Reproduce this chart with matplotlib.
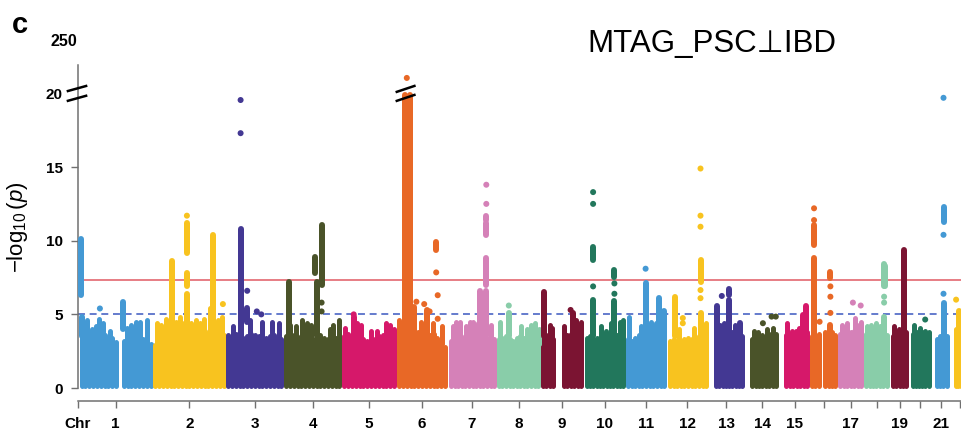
import numpy as np
import matplotlib
matplotlib.use("Agg")
import matplotlib.pyplot as plt
from matplotlib.lines import Line2D
import matplotlib.transforms as mtransforms

nan = np.nan

# ---- chromosome layout (Mb along the genome axis) ----
chrom_length = [250, 243, 193, 193, 183, 170, 163, 147, 143, 140, 137,
                137, 123, 117, 100, 93, 87, 87, 67, 70, 67, 60]
data_lo = [12, 8, 8, 8, 8, 8, 11, 8, 8, 11, 8, 11, 28, 25, 21, 8, 8, 8, 11, 11, 21, 15]
data_hi = [242, 235, 185, 185, 175, 162, 155, 139, 135, 132, 129, 132, 115, 105,
           92, 85, 79, 77, 55, 62, 52, 52]
tick_labels = ['1', '2', '3', '4', '5', '6', '7', '8', '9', '10', '11', '12',
               '13', '14', '15', '', '17', '', '19', '', '21', '']

palette = ['#4499D4', '#F8C31F', '#433893', '#4A5329', '#D6186A',
           '#E86826', '#D581B8', '#89CDA9', '#7B1432', '#22775C']

# dense bulk of SNPs: upper level of the point cloud along each chromosome
body_levels = [
    [3.6, 3.4, 3.7, 3.3, 3.5, 3.4, 3.6, 3.3, 3.4, 3.1, nan, 3.2, 3.3, 3.1, 3.4, 3.2, 3.3, 3.2, 3.0],
    [2.9, 2.9, 3.0, 3.4, 3.5, 3.6, 3.5, 3.7, 3.6, 3.8, 3.7, 3.6, 3.8, 3.9, 3.7, 3.8, 3.9, 3.7, 3.6],
    [3.6, 3.5, 3.7, 3.6, 3.4, 3.5, 3.7, 3.6, 3.5, 3.6, 3.4, 3.5, 3.6, 3.4, 3.3],
    [3.5, 3.3, 3.6, 3.4, 3.5, 3.2, 3.4, 3.3, 3.5, 3.6, 3.4, 3.3, 3.2, 3.4, 3.5],
    [3.5, 3.7, 3.6, 3.4, 3.6, 3.3, 3.2, 3.4, 3.3, 3.5, 3.6, 3.4, 3.5, 3.6],
    [3.6, 3.8, 3.9, 3.7, 3.6, 3.8, 3.7, 3.5, 3.6, 3.7, 3.4, 3.0, 2.8],
    [3.2, 3.3, 3.4, 3.3, 3.5, 3.4, 3.3, 3.5, 3.6, 3.5, 3.4, 3.5, 3.3],
    [3.3, 3.4, 3.5, 3.3, 3.2, 3.4, 3.5, 3.4, 3.3, 3.5, 3.6, 3.4],
    [3.5, 3.6, 3.4, 3.3, nan, nan, 3.4, 3.6, 3.7, 3.8, 3.9, 3.7],
    [3.4, 3.5, 3.3, 3.4, 3.2, 3.1, 3.3, 3.4, 3.5, 3.6, 3.5, 3.4],
    [3.3, 3.2, 3.4, 3.6, 3.5, 3.7, 3.6, 3.5, 3.7, 3.8, 3.6],
    [3.2, 3.3, 3.1, 3.2, 3.3, 3.4, 3.3, 3.4, 3.5, 3.6, 3.4],
    [3.6, 3.7, 3.8, 3.7, 3.6, 3.8, 3.7, 3.6, 3.5],
    [3.3, 3.5, 3.4, 3.6, 3.5, 3.7, 3.6, 3.7],
    [3.6, 3.7, 3.6, 3.7, 3.8, 3.7, 3.8],
    [3.5, 3.6, 3.7, nan, 3.8, 3.7, 3.8, 3.6],
    [3.7, 3.8, 3.6, 3.8, 3.9, 3.8, 3.7],
    [3.7, 3.8, 3.9, 3.8, 3.7, 3.8, 3.6],
    [3.5, 3.6, 3.8, 3.9, 3.8],
    [3.7, 3.8, 3.9, 3.8, 3.9, 3.8],
    [3.3, 3.5, 3.6, 3.5],
    [4.0, 4.2, 4.4, 4.2, 4.1],
]

# scattered points rising just above the bulk: (chromosome, Mb, top)
spikes = [
    (1, 17, 4.5), (1, 30, 4.6), (1, 47, 4.0), (1, 60, 4.2), (1, 70, 4.7), (1, 83, 4.4),
    (1, 107, 3.9), (1, 163, 4.1), (1, 177, 4.3), (1, 193, 4.5), (1, 207, 4.5), (1, 230, 4.6),
    (2, 13, 4.4), (2, 27, 4.3), (2, 43, 4.7), (2, 53, 4.5), (2, 77, 4.5), (2, 90, 4.85),
    (2, 103, 4.4), (2, 127, 4.4), (2, 143, 4.6), (2, 157, 4.4), (2, 170, 4.7), (2, 190, 5.4),
    (2, 217, 4.6), (2, 230, 4.8),
    (3, 23, 4.2), (3, 80, 4.6), (3, 120, 4.5), (3, 153, 4.5), (3, 177, 4.4),
    (4, 20, 4.3), (4, 40, 4.2), (4, 59, 4.6), (4, 76, 4.4), (4, 90, 4.3), (4, 153, 4.0),
    (4, 165, 4.3), (4, 183, 4.6),
    (5, 10, 4.1), (5, 50, 4.4), (5, 63, 4.3), (5, 99, 3.9), (5, 116, 3.9), (5, 149, 4.4),
    (5, 160, 4.3), (5, 175, 4.0),
    (6, 8, 4.6), (6, 55, 4.3), (6, 80, 4.5), (6, 120, 4.4), (6, 150, 4.2),
    (7, 17, 4.2), (7, 29, 4.5), (7, 40, 4.5), (7, 62, 4.2), (7, 73, 4.5), (7, 84, 4.5),
    (7, 100, 4.4), (7, 145, 4.3),
    (8, 10, 4.5), (8, 80, 4.2), (8, 100, 4.0), (8, 115, 4.3), (8, 128, 4.4), (8, 140, 4.0),
    (9, 30, 4.3), (9, 38, 4.1), (9, 78, 4.2), (9, 118, 4.6), (9, 135, 4.5),
    (10, 59, 4.2), (10, 75, 3.9), (10, 90, 4.4), (10, 120, 4.5), (10, 133, 4.6),
    (11, 10, 4.85), (11, 50, 4.2), (11, 85, 4.5), (11, 100, 4.4),
    (12, 40, 4.0), (12, 90, 4.1), (12, 130, 4.4),
    (13, 40, 4.3), (13, 55, 4.4), (13, 90, 4.3),
    (14, 30, 3.9), (14, 45, 3.8), (14, 75, 4.0), (14, 95, 4.1),
    (15, 24, 4.4), (15, 40, 3.9), (15, 55, 3.9), (15, 65, 4.1),
    (17, 15, 4.3), (17, 30, 4.4), (17, 57, 4.75), (17, 65, 4.3), (17, 77, 4.5),
    (18, 10, 4.2), (18, 25, 4.3), (18, 40, 4.4), (18, 55, 4.2),
    (19, 15, 4.2), (19, 30, 4.0),
    (20, 15, 4.3), (20, 35, 4.1),
]

# runs of consecutive significant SNPs at a locus: (chromosome, Mb, low, high)
columns = [
    (1, 10, 6.3, 10.1), (1, 12, 3.5, 4.8), (1, 150, 4.0, 5.85),
    (2, 64, 3.5, 8.6), (2, 113, 9.2, 11.2), (2, 113, 6.9, 7.8), (2, 113, 3.5, 6.4), (2, 200, 3.5, 10.4),
    (3, 49, 3.5, 10.8), (3, 71, 4.5, 5.4),
    (4, 17, 3.5, 7.2), (4, 105, 7.8, 8.9), (4, 109, 3.5, 7.2), (4, 126, 7.0, 11.1),
    (5, 40, 3.5, 4.8),
    (6, 27, 3.5, 19.9), (6, 43, 3.5, 19.9), (6, 132, 9.4, 9.9), (6, 57, 3.5, 5.5), (6, 100, 3.5, 5.3),
    (7, 129, 11.4, 11.7), (7, 129, 10.4, 11.2), (7, 129, 7.0, 8.8), (7, 129, 3.5, 6.6), (7, 109, 3.5, 6.6),
    (8, 41, 3.5, 5.1),
    (9, 10, 3.5, 6.5), (9, 108, 3.5, 5.1),
    (10, 32, 8.7, 9.6), (10, 32, 3.5, 6.0), (10, 103, 7.55, 8.0), (10, 103, 3.5, 5.9),
    (11, 67, 3.5, 7.1), (11, 113, 3.5, 6.1), (11, 128, 3.5, 5.2),
    (12, 27, 3.5, 6.2), (12, 113, 7.2, 8.7), (12, 113, 3.5, 5.1),
    (13, 70, 6.3, 6.7), (13, 70, 3.5, 6.0), (13, 30, 3.5, 5.6), (13, 107, 3.5, 4.4),
    (15, 87, 3.5, 5.55), (15, 78, 3.5, 4.95),
    (16, 14.5, 9.7, 11.1), (16, 14.5, 3.5, 8.8), (16, 69, 7.45, 7.9), (16, 69, 3.5, 4.3),
    (18, 66, 6.9, 8.45), (18, 70, 6.9, 8.3), (18, 68, 3.5, 4.85),
    (19, 48, 3.5, 9.35),
    (21, 42, 11.3, 12.3), (21, 42, 3.5, 5.75),
    (22, 28, 3.5, 5.25),
]

# individual SNPs: (chromosome, Mb, -log10 p)
dots = [
    (1, 73, 5.4),
    (2, 113, 11.7), (2, 233, 5.7),
    (3, 49, 17.3), (3, 49, 19.55), (3, 71, 6.6), (3, 103, 5.2), (3, 118, 5.0),
    (4, 126, 5.8), (4, 126, 5.2),
    (5, 40, 5.0),
    (6, 34, 88.0), (6, 132, 7.85), (6, 137, 6.3), (6, 66, 5.86), (6, 92, 5.7), (6, 110, 5.2), (6, 137, 4.7),
    (7, 129, 13.8), (7, 129, 12.5),
    (8, 41, 5.6),
    (9, 100, 5.3),
    (10, 32, 13.3), (10, 32, 12.5), (10, 32, 6.9), (10, 103, 7.1), (10, 103, 6.4),
    (11, 67, 8.1),
    (12, 54, 4.75), (12, 54, 4.4), (12, 113, 14.9), (12, 113, 11.7), (12, 113, 10.95),
    (12, 113, 6.65), (12, 113, 6.1),
    (13, 47, 6.25),
    (14, 61, 4.4), (14, 90, 4.85), (14, 104, 4.85),
    (16, 14.5, 12.2), (16, 14.5, 11.4), (16, 69, 6.9), (16, 69, 6.2), (16, 69, 5.1), (16, 33, 4.5),
    (17, 51, 5.8), (17, 77, 5.6),
    (18, 68, 6.2), (18, 68, 5.8),
    (20, 51, 4.65),
    (21, 42, 19.7), (21, 42, 10.4), (21, 42, 6.4),
    (22, 17, 6.0),
]

genome_wide = -np.log10(5e-8)
suggestive = 5.0
break_at, break_top, break_top_pos = 20.0, 250.0, 23.55


def squash(v):
    """Compress values above the axis break into the short top segment."""
    v = np.asarray(v, float)
    return np.where(v > break_at,
                    break_at + (v - break_at) * (break_top_pos - break_at) / (break_top - break_at),
                    v)


plt.rcParams['font.family'] = ['Liberation Sans', 'DejaVu Sans']
plt.rcParams['mathtext.fontset'] = 'custom'
plt.rcParams['mathtext.rm'] = 'Liberation Sans'
plt.rcParams['mathtext.it'] = 'Liberation Sans:italic'
plt.rcParams['lines.scale_dashes'] = False

W, H = 961, 436
fig = plt.figure(figsize=(W / 100, H / 100), dpi=100)
ax_left, ax_right, ax_bottom, ax_top = 78, 961, 401.3, 65.4
ax = fig.add_axes([ax_left / W, 1 - ax_bottom / H, (ax_right - ax_left) / W, (ax_bottom - ax_top) / H])
ax.set_ylim(-0.9, 21.9)
ax.set_xlim(0, (ax_right - ax_left) / 0.3)

offsets = np.concatenate([[0], np.cumsum(chrom_length)[:-1]])
mids = offsets + np.asarray(chrom_length) / 2.0

dot_px = 6.0
dot_pt = dot_px * 72 / 100


def colour(c):
    return palette[(c - 1) % len(palette)]


# bulk of each chromosome
for i, lv in enumerate(body_levels):
    lv = np.asarray(lv, float)
    xs = offsets[i] + np.linspace(data_lo[i], data_hi[i], len(lv))
    ok = ~np.isnan(lv)
    ax.vlines(xs[ok], 0.12, lv[ok], colors=palette[i % 10], linewidth=5 * 72 / 100,
              capstyle='round', zorder=2)

for c, pos, top in spikes:
    ax.vlines(offsets[c - 1] + pos, 3.0, top, colors=colour(c), linewidth=5 * 72 / 100,
              capstyle='round', zorder=2)

for c, pos, lo, hi in columns:
    ax.vlines(offsets[c - 1] + pos, lo, squash(hi), colors=colour(c), linewidth=dot_pt,
              capstyle='round', zorder=3)

dx = np.array([offsets[c - 1] + p for c, p, _ in dots])
dy = squash([v for _, _, v in dots])
dc = [colour(c) for c, _, _ in dots]
ax.scatter(dx, dy, s=dot_pt ** 2, c=dc, linewidths=0, zorder=3)

# significance thresholds
ax.axhline(genome_wide, color='#E05A63', linewidth=1.1, zorder=1)
ax.axhline(suggestive, color='#3A57C0', linewidth=1.1, linestyle=(0, (5.0, 3.4)), zorder=1)

# axes styling
for s in ('top', 'right'):
    ax.spines[s].set_visible(False)
ax.spines['left'].set_bounds(0, 21.9)
for s in ('left', 'bottom'):
    ax.spines[s].set_color('#707070')
    ax.spines[s].set_linewidth(1.1)

ax.set_xticks(np.concatenate([[0], mids]))
ax.set_xticklabels(['Chr'] + tick_labels, fontweight='bold', fontsize=11)
ax.set_yticks([0, 5, 10, 15, 20])
ax.set_yticklabels(['0', '5', '10', '15', '20'], fontweight='bold', fontsize=11)
ax.tick_params(axis='both', direction='out', length=5, width=1.0, color='#707070',
               labelcolor='black', pad=6.0)
ax.yaxis.get_major_ticks()[4].tick1line.set_visible(False)

ax.text(-0.001, break_top_pos, f'{break_top:.0f}',
        transform=mtransforms.blended_transform_factory(ax.transAxes, ax.transData),
        ha='right', va='center', fontsize=11.5, fontweight='bold', clip_on=False)


def break_mark(xc, yc, half_w, gap, rise):
    px, py = ax.transData.transform((xc, yc))
    for d in (gap, -gap):
        fig.add_artist(Line2D([px - half_w, px + half_w], [py + d - rise, py + d + rise],
                              transform=mtransforms.IdentityTransform(), color='black',
                              linewidth=1.8, solid_capstyle='butt', zorder=10))


break_mark(-3.3, break_at, 10.3, 4.9, 2.85)
break_mark(offsets[5] + 30, break_at, 10.0, 4.5, 3.35)

fig.text(712 / W, 1 - 52 / H, 'MTAG_PSC\u22a5IBD', ha='center', va='baseline', fontsize=22.5,
         family=['Liberation Sans', 'DejaVu Sans'])
fig.text(12 / W, 1 - 33 / H, 'c', ha='left', va='baseline', fontsize=21, fontweight='bold')
fig.text(18 / W, 1 - 227 / H, r'$-\log_{10}(p)$', rotation=90, ha='center', va='center', fontsize=16)

fig.savefig('out.png', dpi=100)
